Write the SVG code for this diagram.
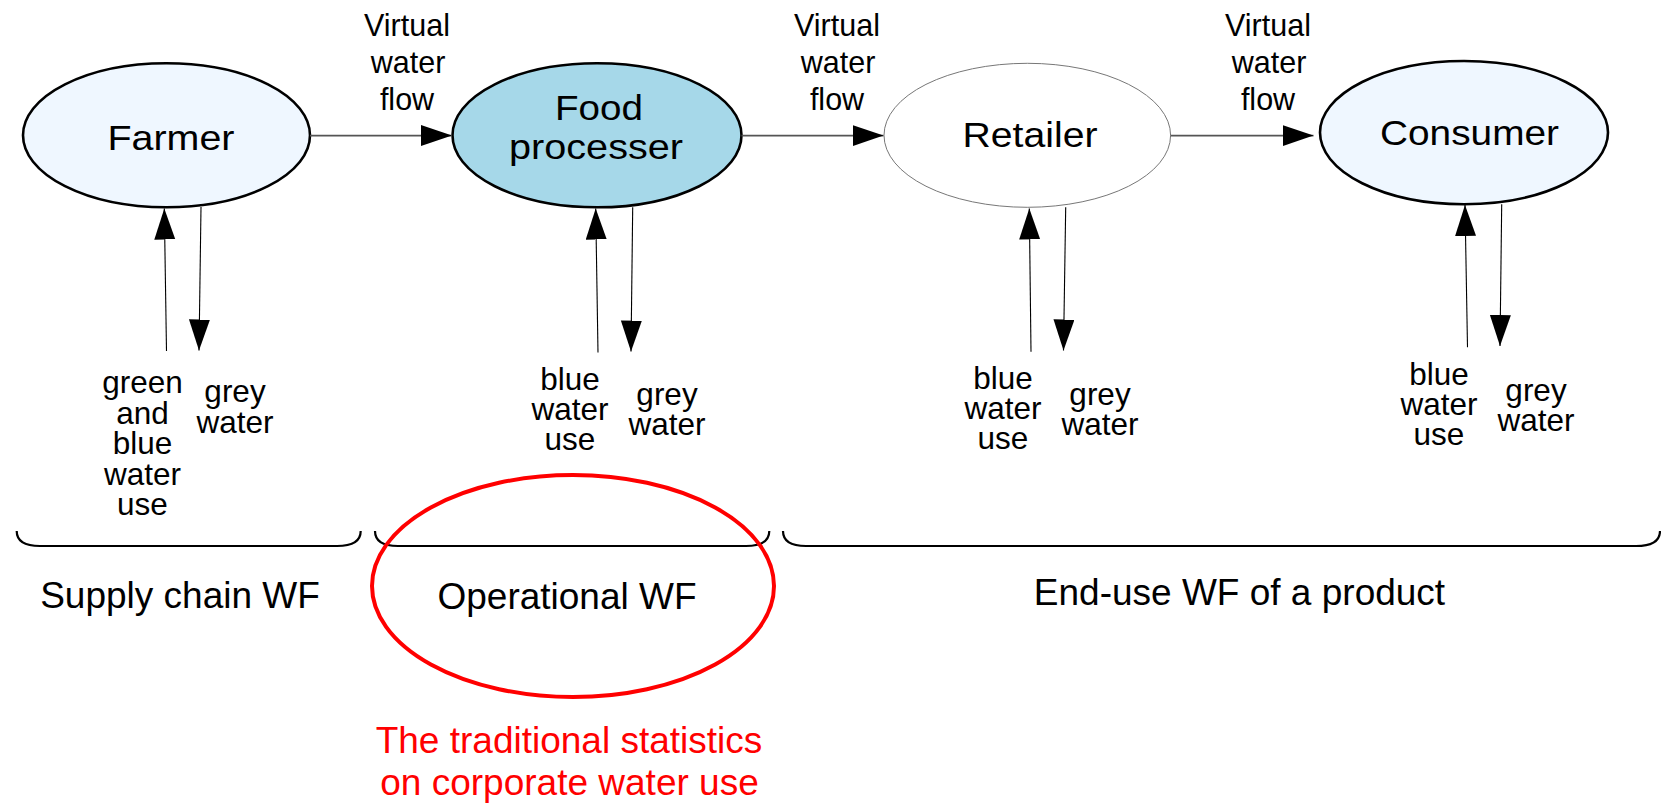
<svg xmlns="http://www.w3.org/2000/svg" width="1661" height="804" viewBox="0 0 1661 804">
  <defs>
    <marker id="arrow" markerUnits="userSpaceOnUse" markerWidth="32" markerHeight="22" refX="31" refY="10.5" orient="auto">
      <path d="M0,0 L31,10.5 L0,21 Z" fill="#000"/>
    </marker>
    <style>
      text { font-family: "Liberation Sans", Arial, sans-serif; fill: #000; text-anchor: middle; }
      .node { stroke: #000; stroke-width: 2.6; }
      .pale { fill: #eff7ff; }
      .deep { fill: #a6d8e9; }
      .plain { fill: #fff; stroke: #777; stroke-width: 1; }
      .name { font-size: 35px; }
      .flow { font-size: 30.5px; }
      .use { font-size: 31.5px; }
      .scope { font-size: 37px; }
      .note { font-size: 37px; fill: #ff0000; }
      .h { stroke: #555; stroke-width: 1.6; fill: none; marker-end: url(#arrow); }
      .v { stroke: #000; stroke-width: 1.1; fill: none; marker-end: url(#arrow); }
      .brace { stroke: #000; stroke-width: 2.2; fill: none; }
    </style>
  </defs>
  <rect width="1661" height="804" fill="#fff"/>

  <!-- chain participants -->
  <g id="farmer">
    <ellipse class="node pale" cx="166.5" cy="135.3" rx="143.5" ry="72"/>
    <text class="name" x="171" y="150" textLength="127" lengthAdjust="spacingAndGlyphs">Farmer</text>
  </g>
  <g id="food-processer">
    <ellipse class="node deep" cx="597" cy="135.3" rx="144.5" ry="72"/>
    <text class="name" x="599" y="120" textLength="88" lengthAdjust="spacingAndGlyphs">Food</text>
    <text class="name" x="596" y="159" textLength="174" lengthAdjust="spacingAndGlyphs">processer</text>
  </g>
  <g id="retailer">
    <ellipse class="plain" cx="1027.3" cy="135.3" rx="143.3" ry="72"/>
    <text class="name" x="1030" y="147" textLength="135" lengthAdjust="spacingAndGlyphs">Retailer</text>
  </g>
  <g id="consumer">
    <ellipse class="node pale" cx="1464" cy="132.6" rx="144" ry="71.6"/>
    <text class="name" x="1469.5" y="145" textLength="179" lengthAdjust="spacingAndGlyphs">Consumer</text>
  </g>

  <!-- connectors: virtual water flows and water use arrows -->
  <g id="connectors">
    <line class="h" x1="310" y1="135.6" x2="452" y2="135.6"/>
    <line class="h" x1="741.5" y1="135.6" x2="883.5" y2="135.6"/>
    <line class="h" x1="1170.6" y1="135.6" x2="1313.5" y2="135.6"/>

    <line class="v" x1="166.5" y1="351" x2="164.3" y2="208.5"/>
    <line class="v" x1="201" y1="207" x2="199" y2="350.5"/>
    <line class="v" x1="598" y1="352.5" x2="595.7" y2="208.5"/>
    <line class="v" x1="632.7" y1="207.3" x2="631" y2="351.5"/>
    <line class="v" x1="1031" y1="351.7" x2="1029.3" y2="208.5"/>
    <line class="v" x1="1065.7" y1="207.3" x2="1063.5" y2="350.5"/>
    <line class="v" x1="1467.5" y1="347.3" x2="1465" y2="205"/>
    <line class="v" x1="1501.7" y1="204.2" x2="1500" y2="346"/>
  </g>

  <!-- flow labels -->
  <g id="flow-labels" class="flow">
    <text class="flow" x="407" y="36">Virtual</text>
    <text class="flow" x="408" y="73">water</text>
    <text class="flow" x="407" y="110">flow</text>
    <text class="flow" x="837" y="36">Virtual</text>
    <text class="flow" x="838" y="73">water</text>
    <text class="flow" x="837" y="110">flow</text>
    <text class="flow" x="1268" y="36">Virtual</text>
    <text class="flow" x="1269" y="73">water</text>
    <text class="flow" x="1268" y="110">flow</text>
  </g>

  <!-- water use labels -->
  <g id="use-labels">
    <text class="use" x="142.5" y="393">green</text>
    <text class="use" x="142.5" y="423.5">and</text>
    <text class="use" x="142.5" y="454">blue</text>
    <text class="use" x="142.5" y="484.5">water</text>
    <text class="use" x="142.5" y="515">use</text>
    <text class="use" x="235" y="401.5">grey</text>
    <text class="use" x="235" y="433">water</text>

    <text class="use" x="570" y="390">blue</text>
    <text class="use" x="570" y="420">water</text>
    <text class="use" x="570" y="450">use</text>
    <text class="use" x="667" y="405">grey</text>
    <text class="use" x="667" y="434.5">water</text>

    <text class="use" x="1003" y="389.3">blue</text>
    <text class="use" x="1003" y="419.3">water</text>
    <text class="use" x="1003" y="449.3">use</text>
    <text class="use" x="1100" y="405">grey</text>
    <text class="use" x="1100" y="435">water</text>

    <text class="use" x="1439" y="384.5">blue</text>
    <text class="use" x="1439" y="414.5">water</text>
    <text class="use" x="1439" y="444.5">use</text>
    <text class="use" x="1536" y="401">grey</text>
    <text class="use" x="1536" y="430.5">water</text>
  </g>

  <!-- footprint scopes -->
  <g id="scope-supply-chain">
    <path class="brace" d="M16.7,531 C16.7,541 25,546 40,546 H337 C352,546 360.7,541 360.7,531"/>
    <text class="scope" x="180" y="608">Supply chain WF</text>
  </g>
  <g id="scope-operational">
    <path class="brace" d="M375,531 C375,541 383,546 398,546 H746 C761,546 769.3,541 769.3,531"/>
    <text class="scope" x="567" y="609">Operational WF</text>
  </g>
  <g id="scope-end-use">
    <path class="brace" d="M783,531 C783,541 791,546 806,546 H1636 C1651,546 1660,541 1660,531"/>
    <text class="scope" x="1239.5" y="604.5">End-use WF of a product</text>
  </g>

  <!-- highlight of the operational footprint -->
  <g id="corporate-statistics">
    <ellipse cx="573" cy="586" rx="201" ry="111" fill="none" stroke="#ff0000" stroke-width="4"/>
    <text class="note" x="569" y="753">The traditional statistics</text>
    <text class="note" x="569.5" y="795">on corporate water use</text>
  </g>
</svg>
